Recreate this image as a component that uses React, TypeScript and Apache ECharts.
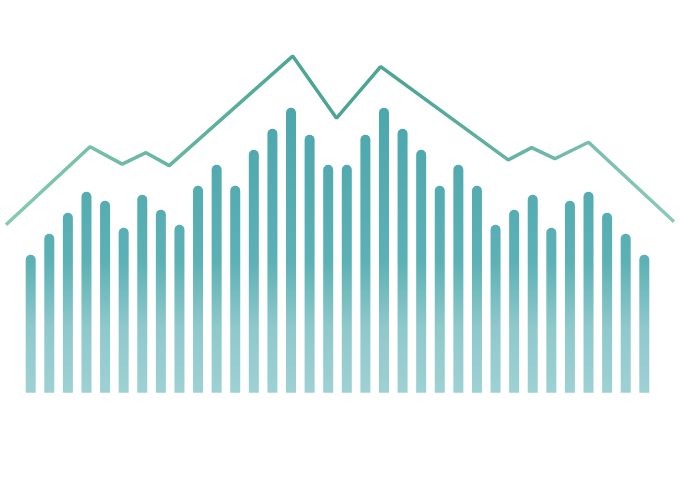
import React, { useEffect, useRef } from "react";
import * as echarts from "echarts";

const categories: string[] = Array.from({ length: 34 }, (_, i) => String(i + 1));
const barValues: number[] = [
  46, 53, 60, 67, 64, 55, 66, 61, 56, 69, 76, 69, 81, 88, 95, 86, 76,
  76, 86, 95, 88, 81, 69, 76, 69, 56, 61, 66, 55, 64, 67, 60, 53, 46,
];
const linePositions: number[] = [-1.33, 3.19, 4.92, 6.2, 7.45, 14.09, 16.45, 18.82, 25.68, 26.94, 28.19, 30.0, 34.6];
const lineValues: number[] = [56, 82, 76.2, 80, 75.7, 112.2, 91.5, 108.7, 77.6, 81.7, 78, 83.5, 57];

export default function App() {
  const ref = useRef<HTMLDivElement>(null);
  useEffect(() => {
    if (!ref.current) return;
    const chart = echarts.init(ref.current, undefined, { renderer: "svg" });
    chart.setOption({
      animation: false,
      backgroundColor: "#ffffff",
      grid: [
        { left: 21.4, right: 26.4, top: 32.7, bottom: 87.3 },
        { left: 0, right: 0, top: 32.7, bottom: 87.3 },
      ],
      xAxis: [
        {
          type: "category",
          gridIndex: 0,
          data: categories,
          show: false,
          boundaryGap: true,
        },
        {
          type: "value",
          gridIndex: 1,
          min: -1.651,
          max: 34.92,
          show: false,
        },
      ],
      yAxis: [
        { type: "value", gridIndex: 0, min: 0, max: 120, show: false },
        { type: "value", gridIndex: 1, min: 0, max: 120, show: false },
      ],
      series: [
        {
          type: "bar",
          xAxisIndex: 0,
          yAxisIndex: 0,
          data: barValues,
          barWidth: 10,
          itemStyle: {
            borderRadius: [5, 5, 0, 0],
            color: new echarts.graphic.LinearGradient(
              0, 100, 0, 393,
              [
                { offset: 0, color: "#4ba6ab" },
                { offset: 0.55, color: "#5cb1b5" },
                { offset: 0.78, color: "#8fc9cc" },
                { offset: 1, color: "#9ed1d4" },
              ],
              true
            ),
          },
        },
        {
          type: "line",
          xAxisIndex: 1,
          yAxisIndex: 1,
          data: linePositions.map((x, i) => [x, lineValues[i]]),
          symbol: "none",
          clip: false,
          lineStyle: {
            width: 3.5,
            color: new echarts.graphic.LinearGradient(0, 0, 1, 0, [
              { offset: 0, color: "#86cab2" },
              { offset: 0.45, color: "#4ba594" },
              { offset: 0.6, color: "#4ca596" },
              { offset: 1, color: "#8ccabc" },
            ]),
          },
        },
      ],
    });
    return () => chart.dispose();
  }, []);
  return <div ref={ref} style={{ width: 680, height: 480, position: "absolute", left: 0, top: 0 }} />;
}
